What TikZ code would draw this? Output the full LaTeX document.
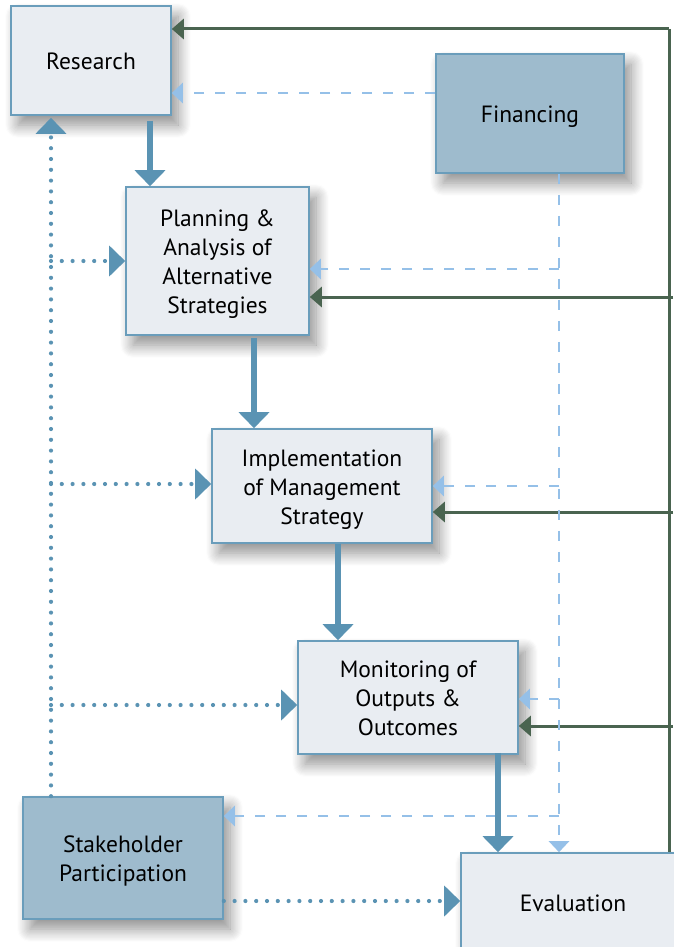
\documentclass[tikz,border=0pt]{standalone}
\usepackage{fontspec}
\setmainfont{PT Sans}
\usetikzlibrary{arrows.meta,shadows.blur}
\definecolor{boxfill}{HTML}{E9EDF2}
\definecolor{boxline}{HTML}{6A9DBB}
\definecolor{darkfill}{HTML}{9EBBCD}
\definecolor{thickblue}{HTML}{5A93B3}
\definecolor{lightblue}{HTML}{95C0E8}
\definecolor{darkgreen}{HTML}{4A6450}
\newcommand{\boxlines}[1]{\begin{tabular}{@{}c@{}}\rule{0pt}{27pt}#1\end{tabular}}
\begin{document}
\begin{tikzpicture}[x=1pt,y=-1pt,
  shad/.style={blur shadow={shadow xshift=7pt,shadow yshift=-10pt,shadow blur radius=13pt,shadow opacity=45,shadow blur steps=12}},
  lbox/.style={draw=boxline,line width=1.6pt,fill=boxfill,shad,inner sep=0pt,
    font=\fontsize{23.5}{29}\selectfont},
  dbox/.style={lbox,fill=darkfill},
  thickarrow/.style={draw=thickblue,line width=6pt,-{Triangle[width=30pt,length=16pt]}},
  garrow/.style={draw=darkgreen,line width=3pt,-{Triangle[width=20pt,length=12pt]}},
  gline/.style={draw=darkgreen,line width=3pt},
  ldash/.style={draw=lightblue,line width=2.6pt,dash pattern=on 10pt off 11pt},
  ldarrow/.style={ldash,-{Triangle[width=20pt,length=11pt]}},
  dotline/.style={draw=thickblue,line width=4.2pt,line cap=round,dash pattern=on 0pt off 10.8pt},
  dotarrow/.style={dotline,-{Triangle[width=30pt,length=16pt,line cap=butt]}}
]
\useasboundingbox (0,0) rectangle (673,947);
% boxes
\node[lbox,minimum width=160pt,minimum height=109pt] (research) at (91,60.5) {\boxlines{Research}};
\node[dbox,minimum width=188pt,minimum height=119pt] (financing) at (530,113.5) {\boxlines{Financing}};
\node[lbox,minimum width=183pt,minimum height=148pt] (planning) at (217.5,261) {\boxlines{Planning \&\\Analysis of\\Alternative\\Strategies}};
\node[lbox,minimum width=220pt,minimum height=114pt] (impl) at (322,486) {\boxlines{Implementation\\of Management\\Strategy}};
\node[lbox,minimum width=220pt,minimum height=113pt] (monitor) at (408,697.5) {\boxlines{Monitoring of\\Outputs \&\\Outcomes}};
\node[dbox,minimum width=200pt,minimum height=122pt] (stake) at (123,858) {\boxlines{Stakeholder\\Participation}};
\node[lbox,minimum width=240pt,minimum height=120pt] (eval) at (581,913) {};
\node[font=\fontsize{23.5}{29}\selectfont] (evaltext) at (573,903) {Evaluation};
% coordinates
\coordinate (gtop) at (669,29);
\coordinate (g1) at (673,297);
\coordinate (g2) at (673,512);
\coordinate (g3) at (673,726);
\coordinate (fx) at (559,0);
\coordinate (fr) at (0,93);
\coordinate (b1) at (559,269);
\coordinate (b2) at (559,486);
\coordinate (b3) at (559,699);
\coordinate (b4) at (559,816);
\coordinate (dx) at (51,0);
\coordinate (d1) at (51,261);
\coordinate (d2) at (51,484);
\coordinate (d3) at (51,705);
\coordinate (sy) at (0,901);
% green feedback lines
\draw[gline] (gtop) -- (gtop |- eval.north);
\draw[garrow] (gtop) -- (gtop -| research.east);
\draw[garrow] (g1) -- (g1 -| planning.east);
\draw[garrow] (g2) -- (g2 -| impl.east);
\draw[garrow] (g3) -- (g3 -| monitor.east);
% financing dashed lines
\draw[ldarrow] (financing.west |- fr) -- (research.east |- fr);
\draw[ldarrow] (fx |- financing.south) -- (fx |- eval.north);
\draw[ldarrow] (b1) -- (b1 -| planning.east);
\draw[ldarrow] (b2) -- (b2 -| impl.east);
\draw[ldarrow] (b3) -- (b3 -| monitor.east);
\draw[ldarrow] (b4) -- (b4 -| stake.east);
% main flow
\draw[thickarrow] ([yshift=-5pt]research.south -| 150,0) -- (150,0 |- planning.north);
\draw[thickarrow] ([yshift=-2pt]planning.south -| 254,0) -- (254,0 |- impl.north);
\draw[thickarrow] (impl.south -| 338,0) -- (338,0 |- monitor.north);
\draw[thickarrow] ([yshift=2pt]monitor.south -| 498,0) -- (498,0 |- eval.north);
% stakeholder dotted lines
\draw[dotarrow] (dx |- stake.north) -- ([yshift=-2pt]dx |- research.south);
\draw[dotarrow] (d1) -- (d1 -| planning.west);
\draw[dotarrow] (d2) -- (d2 -| impl.west);
\draw[dotarrow] (d3) -- (d3 -| monitor.west);
\draw[dotarrow] (stake.east |- sy) -- (eval.west |- sy);
\end{tikzpicture}
\end{document}
